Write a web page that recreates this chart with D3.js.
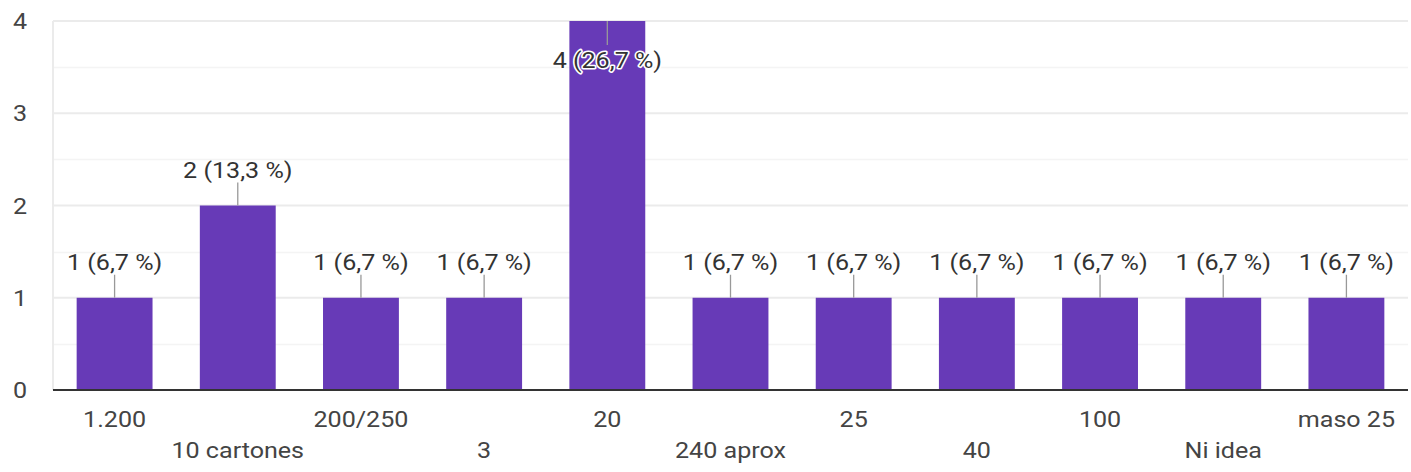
<!DOCTYPE html>
<html>
<head>
<meta charset="utf-8">
<script src="https://cdn.jsdelivr.net/npm/d3@7"></script>
<style>
  html, body { margin: 0; padding: 0; background: #fff; }
  svg { display: block; }
  text { font-family: Roboto, Arial, sans-serif; }
</style>
</head>
<body>
<svg id="chart" width="1411" height="472"></svg>
<script>
// Answers and their counts
const categories = ["1.200", "10 cartones", "200/250", "3", "20", "240 aprox", "25", "40", "100", "Ni idea", "maso 25"];
const counts = [1, 2, 1, 1, 4, 1, 1, 1, 1, 1, 1];
const percentLabels = ["6,7", "13,3", "6,7", "6,7", "26,7", "6,7", "6,7", "6,7", "6,7", "6,7", "6,7"];
const yTicks = [0, 1, 2, 3, 4];

const plotLeft = 53, plotRight = 1408, plotTop = 21, plotBottom = 390;
const fontSize = 22;
const stretch = 1.14;          // glyphs are drawn slightly wide
const purple = "#673ab7";

const svg = d3.select("#chart");

const x = d3.scaleBand()
  .domain(categories)
  .range([plotLeft, plotRight])
  .paddingInner(0.384)
  .paddingOuter(0.192);

const y = d3.scaleLinear().domain([0, 4]).range([plotBottom, plotTop]);

// helper: text placed at (px, py) with horizontal stretch
function label(g, px, py, str, anchor, fill) {
  return g.append("g").attr("transform", `translate(${px},${py})`)
    .append("text")
    .attr("transform", `scale(${stretch},1)`)
    .attr("text-anchor", anchor)
    .attr("font-size", fontSize)
    .attr("fill", fill || "#444")
    .text(str);
}

// minor gridlines
const minor = d3.range(0.5, 4, 1);
svg.append("g").selectAll("line").data(minor).join("line")
  .attr("x1", plotLeft).attr("x2", plotRight)
  .attr("y1", d => Math.round(y(d)) + 0.5).attr("y2", d => Math.round(y(d)) + 0.5)
  .attr("stroke", "#f4f4f4").attr("stroke-width", 1.5);

// major gridlines
svg.append("g").selectAll("line").data(yTicks.filter(d => d > 0)).join("line")
  .attr("x1", plotLeft).attr("x2", plotRight)
  .attr("y1", d => y(d)).attr("y2", d => y(d))
  .attr("stroke", "#ebebeb").attr("stroke-width", 2);

// left frame line
svg.append("line")
  .attr("x1", plotLeft).attr("x2", plotLeft).attr("y1", plotTop).attr("y2", plotBottom)
  .attr("stroke", "#ebebeb").attr("stroke-width", 2);

// y tick labels
const yg = svg.append("g");
yTicks.forEach(d => {
  label(yg, 27, y(d) + 8, String(d), "end", "#444");
});

// bars
svg.append("g").selectAll("rect").data(categories).join("rect")
  .attr("x", d => x(d))
  .attr("width", x.bandwidth())
  .attr("y", (d, i) => y(counts[i]))
  .attr("height", (d, i) => y(0) - y(counts[i]))
  .attr("fill", purple);

// baseline
svg.append("line")
  .attr("x1", plotLeft).attr("x2", plotRight).attr("y1", plotBottom).attr("y2", plotBottom)
  .attr("stroke", "#333").attr("stroke-width", 2);

// value annotations with leader lines
const ag = svg.append("g");
categories.forEach((c, i) => {
  const cx = x(c) + x.bandwidth() / 2;
  const yt = y(counts[i]);
  const txt = `${counts[i]} (${percentLabels[i]} %)`;
  const inside = counts[i] === d3.max(counts);
  if (inside) {
    ag.append("line").attr("x1", cx).attr("x2", cx).attr("y1", yt).attr("y2", yt + 24)
      .attr("stroke", "#999").attr("stroke-width", 1.3);
    label(ag, cx, yt + 47, txt, "middle", "#333")
      .attr("stroke", "#fff").attr("stroke-width", 3).attr("paint-order", "stroke")
      .attr("stroke-linejoin", "round");
  } else {
    ag.append("line").attr("x1", cx).attr("x2", cx).attr("y1", yt).attr("y2", yt - 23)
      .attr("stroke", "#999").attr("stroke-width", 1.3);
    label(ag, cx, yt - 28, txt, "middle", "#333");
  }
});

// x category labels on two alternating rows
const xg = svg.append("g");
categories.forEach((c, i) => {
  const cx = x(c) + x.bandwidth() / 2;
  label(xg, cx, i % 2 === 0 ? 427 : 458, c, "middle", "#444");
});
</script>
</body>
</html>
